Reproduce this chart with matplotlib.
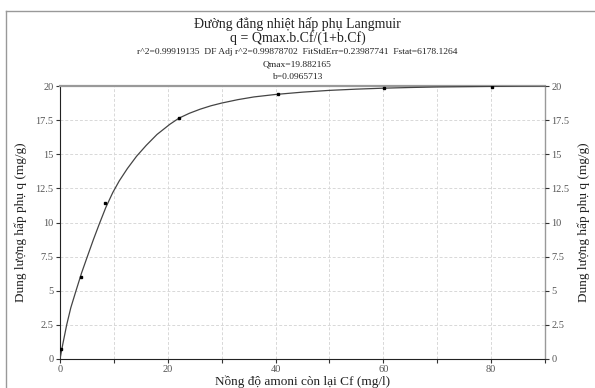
import numpy as np
import matplotlib
matplotlib.use('Agg')
from matplotlib import pyplot as plt
from matplotlib.lines import Line2D

plt.rcParams['font.family'] = ['Liberation Serif', 'DejaVu Serif']

# measured points
cf_obs = [0.13, 3.84, 8.35, 22.1, 40.5, 60.1, 80.1]
q_obs = [0.7, 5.98, 11.44, 17.69, 19.4, 19.85, 19.96]

# fitted curve
cf_fit = [0, 0.5, 1.24, 2, 2.97, 4, 5.07, 6.2, 7.3, 8.5, 9.8, 11, 12.5, 14.2, 16, 18,
          20.4, 22.1, 24, 26, 28, 30, 33, 36, 40, 45, 50, 55, 60, 65, 70, 75, 80, 85, 90]
q_fit = [0, 1.05, 2.5, 3.75, 5.0, 6.3, 7.5, 8.75, 9.9, 11.1, 12.2, 13.05, 13.95, 14.85,
         15.65, 16.45, 17.2, 17.65, 18.0, 18.3, 18.55, 18.75, 19.0, 19.2, 19.38, 19.55,
         19.68, 19.77, 19.84, 19.89, 19.93, 19.95, 19.97, 19.99, 20.0]

xticks = [0, 20, 40, 60, 80]
yticks = [0, 2.5, 5, 7.5, 10, 12.5, 15, 17.5, 20]
ytick_labels = ['0', '2.5', '5', '7.5', '10', '12.5', '15', '17.5', '20']

fig = plt.figure(figsize=(5.95, 3.88), dpi=100)
ax = fig.add_axes([60/595, 1 - 359/388, 485/595, 273/388])

ax.plot(cf_fit, q_fit, color='#444444', lw=0.9, zorder=3)
ax.plot(cf_obs, q_obs, 's', color='black', ms=1.7, zorder=4)

ax.set_xlim(0, 90)
ax.set_ylim(0, 20)
ax.set_xticks(xticks)
ax.set_xticks([10, 30, 50, 70, 90], minor=True)
ax.set_yticks(yticks)
ax.set_yticklabels(ytick_labels)
ax.grid(True, which='both', color='#d8d8d8', ls=(0, (3, 2)), lw=0.7)
ax.tick_params(axis='both', which='both', direction='out', length=3, width=0.8,
               labelsize=7.5, labelcolor='#555555', color='#333333', pad=1.5)

for s in ['top', 'right']:
    ax.spines[s].set_color('#999999')
ax.spines['top'].set_linewidth(1.6)
ax.spines['right'].set_linewidth(1.0)
ax.spines['left'].set_color('#222222')
ax.spines['bottom'].set_color('#222222')

ax.set_xlabel('Nồng độ amoni còn lại Cf (mg/l)', fontsize=9.5, color='#222222', labelpad=1)
ax.set_ylabel('Dung lượng hấp phụ q (mg/g)', fontsize=9.5, color='#222222', labelpad=6)

ax2 = ax.twinx()
ax2.set_ylim(0, 20)
ax2.set_yticks(yticks)
ax2.set_yticklabels(ytick_labels)
ax2.tick_params(axis='y', direction='out', length=3, width=0.8, labelsize=7.5,
                labelcolor='#555555', color='#333333', pad=1.5)
ax2.set_ylabel('Dung lượng hấp phụ q (mg/g)', fontsize=9.5, color='#222222',
               rotation=90, labelpad=6)
for s in ax2.spines.values():
    s.set_visible(False)

# header text
fig.text(0.5, 1 - 24/388, 'Đường đẳng nhiệt hấp phụ Langmuir', ha='center', va='center',
         fontsize=10, color='#222222')
fig.text(0.5, 1 - 38/388, 'q = Qmax.b.Cf/(1+b.Cf)', ha='center', va='center',
         fontsize=10, color='#222222')
fig.text(0.5, 1 - 52/388,
         'r^2=0.99919135  DF Adj r^2=0.99878702  FitStdErr=0.23987741  Fstat=6178.1264',
         ha='center', va='center', fontsize=6.8, color='#222222')
fig.text(0.5, 1 - 65/388, 'Qmax=19.882165', ha='center', va='center',
         fontsize=6.8, color='#222222')
fig.text(0.5, 1 - 77/388, 'b=0.0965713', ha='center', va='center',
         fontsize=6.8, color='#222222')

# frame lines around the picture
fig.add_artist(Line2D([6/595, 1], [1 - 11/388, 1 - 11/388], color='#999999', lw=1.0,
                      transform=fig.transFigure))
fig.add_artist(Line2D([6/595, 6/595], [0, 1 - 11/388], color='#999999', lw=1.0,
                      transform=fig.transFigure))

fig.savefig('out.png', dpi=100)
